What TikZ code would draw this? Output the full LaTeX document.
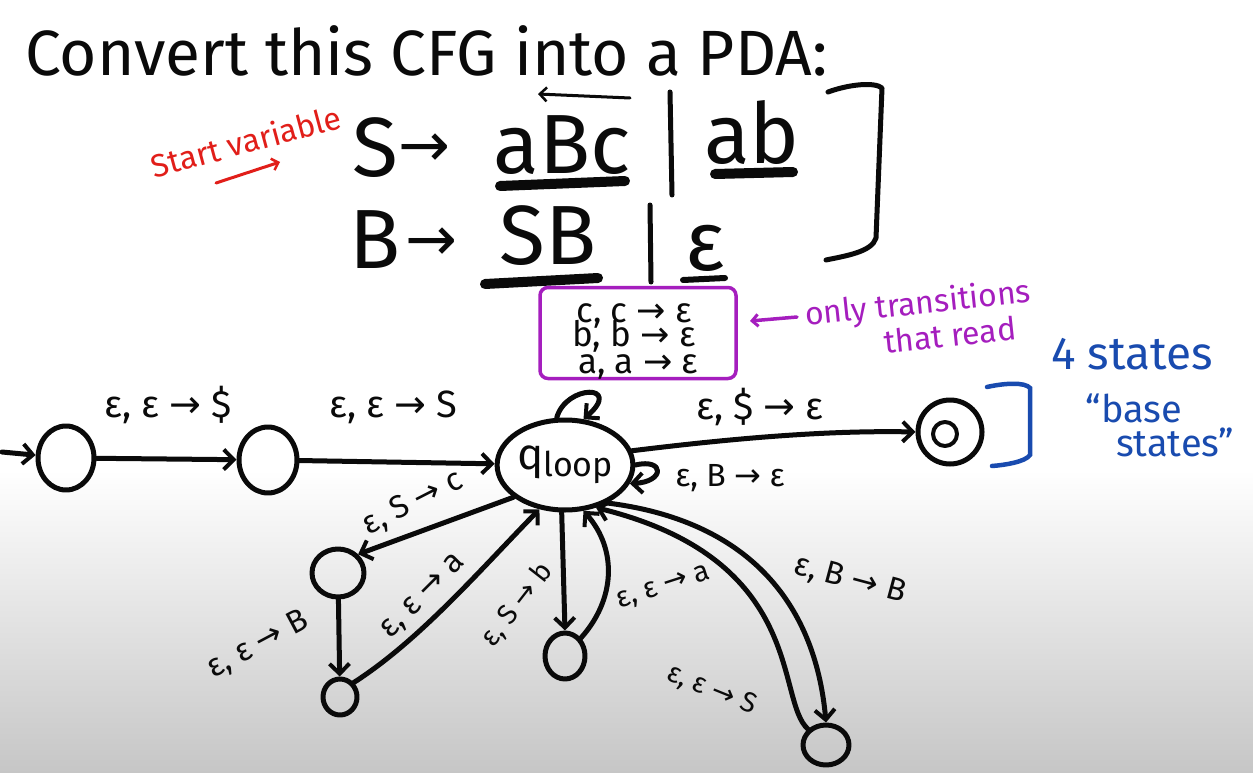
\documentclass[tikz,border=0pt]{standalone}
\usepackage{fontspec}
\setmainfont{Fira Sans}
\newfontfamily\dv{DejaVu Sans}
\usetikzlibrary{shapes.geometric,arrows.meta,calc}
\newcommand\ar{{\dv →}}
\definecolor{pen}{RGB}{10,10,10}
\definecolor{redpen}{RGB}{225,30,25}
\definecolor{purppen}{RGB}{165,30,190}
\definecolor{bluepen}{RGB}{25,75,175}
\definecolor{bggray}{RGB}{198,198,198}
\begin{document}
\begin{tikzpicture}[x=1pt,y=-1pt,
  ink/.style={line width=5pt,draw=pen,line cap=round,line join=round},
  edge/.style={ink,-{Straight Barb[length=10pt,width=20pt,line width=4pt]}},
  stt/.style={ink,ellipse,inner sep=0pt},
  lbl/.style={text=pen,inner sep=0pt,font=\fontsize{38}{40}\selectfont},
  slbl/.style={text=pen,inner sep=0pt,font=\fontsize{32}{34}\selectfont},
  gram/.style={text=pen,inner sep=0pt,anchor=base,font=\fontsize{84}{86}\selectfont},
  garrow/.style={text=pen,inner sep=0pt,anchor=base,font=\fontsize{62}{64}\selectfont},
  ul/.style={line width=10pt,draw=pen,line cap=round},
  note/.style={inner sep=0pt,font=\fontsize{32}{34}\selectfont},
]
\useasboundingbox (0,0) rectangle (1253,773);
\fill[white] (0,0) rectangle (1253,773);
\shade[top color=white,bottom color=bggray] (0,470) rectangle (1253,773);

% title
\node[text=pen,anchor=base west,inner sep=0pt,font=\fontsize{64}{66}\selectfont] (title) at (25,76) {Convert this CFG into a PDA:};

% grammar
\node[gram] (S1) at (375,176) {S};
\node[garrow] (ar1) at (424,166) {\ar};
\node[gram] (aBc) at (562,174) {aBc};
\node[gram] (ab) at (752,164) {ab};
\node[gram] (B1) at (375,268) {B};
\node[garrow] (ar2) at (431,260) {\ar};
\node[gram] (SB) at (548,264) {SB};
\node[gram] (eps) at (705,270) {ε};
\draw[ul] (500,186) -- (625,181);
\draw[ul] (715,174) -- (793,172);
\draw[ul] (485,284) -- (598,278);
\draw[ul,line width=6pt] (683,280) -- (725,278);
\draw[ink] (670,92) -- (672,195);
\draw[ink] (650,205) -- (651,282);
\draw[ink,-{Straight Barb[length=7pt,width=14pt,line width=2.5pt]},line width=3pt] (630,98) -- (538,94);
\draw[ink] (828,92) .. controls (850,84) and (875,82) .. (882,88) -- (876,238) .. controls (872,252) and (845,256) .. (826,260);

% red note
\node[note,text=redpen,rotate=15] (startvar) at (246,141) {Start variable};
\draw[redpen,line width=3pt,line cap=round,-{Straight Barb[length=6pt,width=12pt,line width=2.5pt]}] (216,183) -- (280,162);

% purple box
\node[draw=purppen,line width=3.5pt,rounded corners=8pt,minimum width=196pt,minimum height=91pt,inner sep=0pt] (box) at (638,333) {};
\node[lbl,anchor=base,font=\fontsize{35}{36}\selectfont] (t1) at (634,322) {c, c \ar\ ε};
\node[lbl,anchor=base,font=\fontsize{35}{36}\selectfont] (t2) at (634,346) {b, b \ar\ ε};
\node[lbl,anchor=base,font=\fontsize{35}{36}\selectfont] (t3) at (638,373) {a, a \ar\ ε};
\node[note,text=purppen,rotate=6] (only) at (918,305) {only transitions};
\node[note,text=purppen,rotate=6] (read) at (950,335) {that read};
\draw[purppen,line width=3.5pt,line cap=round,-{Straight Barb[length=6pt,width=12pt,line width=3pt]}] (797,317) -- (750,321);

% blue notes
\node[text=bluepen,inner sep=0pt,font=\fontsize{46}{48}\selectfont] (four) at (1132,354) {4 states};
\node[text=bluepen,inner sep=0pt,align=left,font=\fontsize{38}{40}\selectfont] (base) at (1160,425) {“base\\[-6pt]\hspace*{0.8em}states”};
\draw[bluepen,line width=4.5pt,line cap=round] (987,387) .. controls (1005,383) and (1025,382) .. (1030,388) -- (1030,455) .. controls (1025,462) and (1005,465) .. (992,466);

% states
\coordinate (start) at (2,452);
\node[stt,minimum width=56pt,minimum height=64pt] (q0) at (66,458) {};
\node[stt,minimum width=58pt,minimum height=66pt] (q1) at (268,460) {};
\node[stt,minimum width=134pt,minimum height=90pt,text=pen] (ql) at (565,465) {\fontsize{44}{46}\selectfont q\raisebox{-0.3ex}{\fontsize{34}{36}\selectfont loop}};
\node[ink,circle,minimum size=64pt,inner sep=0pt] (acc) at (950,432) {};
\node[ink,circle,minimum size=24pt,inner sep=0pt,line width=4pt] (acci) at (945,434) {};
\node[stt,minimum width=52pt,minimum height=48pt] (s1) at (338,573) {};
\node[stt,minimum width=34pt,minimum height=36pt] (s2) at (340,697) {};
\node[stt,minimum width=40pt,minimum height=46pt] (s3) at (565,656) {};
\node[stt,minimum width=46pt,minimum height=40pt] (s4) at (826,745) {};

% edges
\draw[edge] (start) -- (q0);
\draw[edge] (q0) -- (q1);
\draw[edge] (q1) -- (ql);
\draw[edge] (ql.12) .. controls (720,440) and (820,430) .. (acc.west);
\draw[edge] (ql.100) .. controls (566,384) and (624,384) .. (ql.68);
\draw[edge] (ql.0) .. controls (665,458) and (665,482) .. (ql.-16);
\draw[edge] (ql.212) -- (s1.north east);
\draw[edge] (s1) -- (s2);
\draw[edge] (s2.north east) .. controls (420,640) and (480,570) .. (ql.240);
\draw[edge] (ql.266) -- (s3.north);
\draw[edge] (s3.north east) .. controls (615,600) and (618,550) .. (ql.292);
\draw[edge] (ql.318) .. controls (745,520) and (815,600) .. (s4.north);
\draw[edge] (s4.north west) .. controls (775,700) and (808,560) .. (ql.306);

% labels
\node[lbl] (l01) at (168,405) {ε, ε \ar\ \$};
\node[lbl] (l1l) at (393,407) {ε, ε \ar\ S};
\node[lbl] (lacc) at (760,407) {ε, \$ \ar\ ε};
\node[slbl] (lB) at (730,478) {ε, B \ar\ ε};
\node[slbl,rotate=27] (lSc) at (413,503) {ε, S \ar\ c};
\node[slbl,rotate=28] (lEB) at (258,645) {ε, ε \ar\ B};
\node[slbl,rotate=45] (lEa) at (424,597) {ε, ε \ar\ a};
\node[slbl,rotate=52,font=\fontsize{28}{30}\selectfont] (lSb) at (517,605) {ε, S \ar\ b};
\node[slbl,rotate=18,font=\fontsize{29}{31}\selectfont] (lEa2) at (664,588) {ε, ε \ar\ a};
\node[slbl,rotate=-15] (lBB) at (850,580) {ε, B \ar\ B};
\node[slbl,rotate=-22,font=\fontsize{28}{30}\selectfont] (lES) at (712,690) {ε, ε \ar\ S};
\end{tikzpicture}
\end{document}
